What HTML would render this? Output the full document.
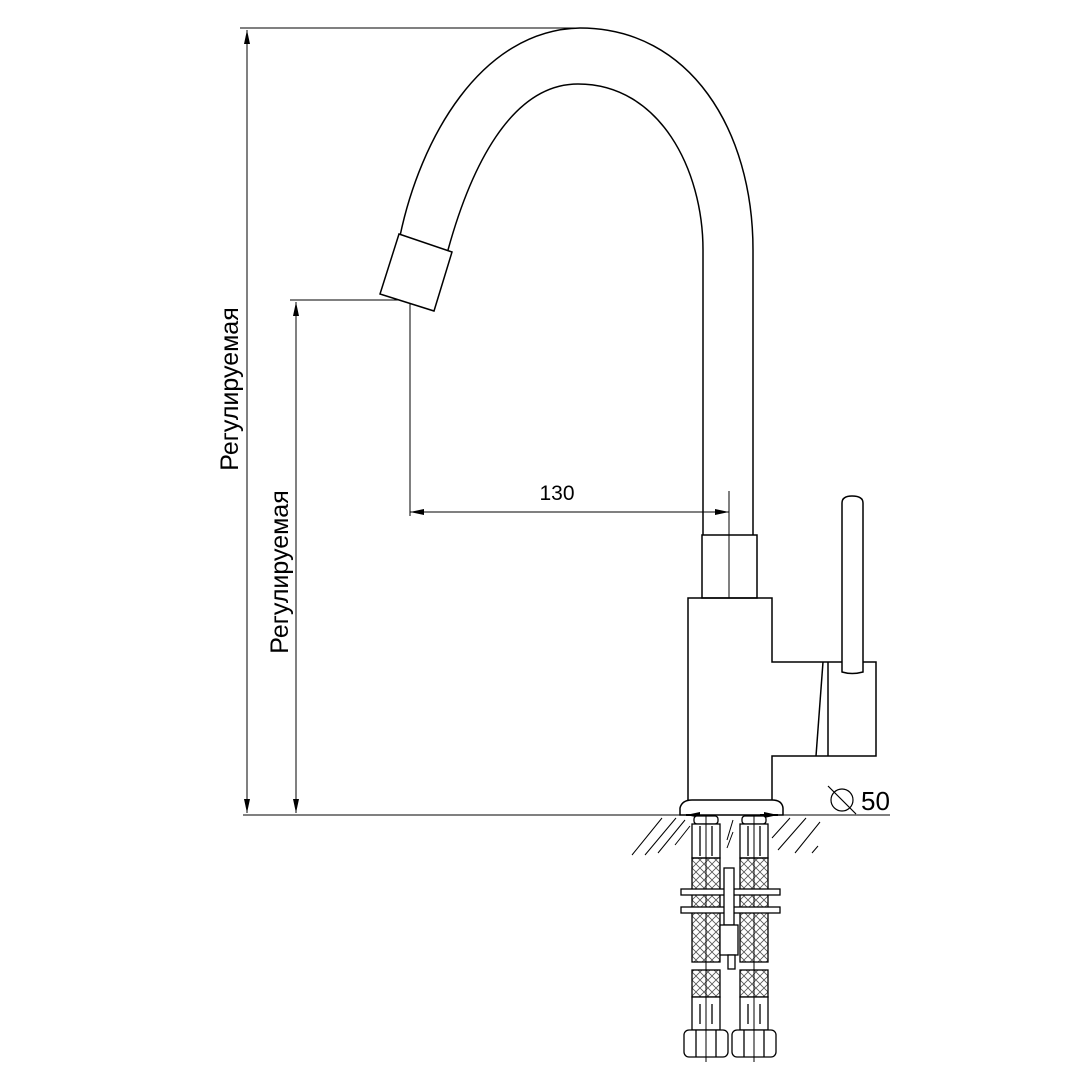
<!DOCTYPE html>
<html><head><meta charset="utf-8"><style>html,body{margin:0;padding:0;background:#fff}svg{display:block}</style></head>
<body>
<svg width="1080" height="1080" viewBox="0 0 1080 1080" xmlns="http://www.w3.org/2000/svg" font-family="Liberation Sans, sans-serif">
<defs>
<pattern id="braid" width="8" height="8" patternUnits="userSpaceOnUse">
<path d="M0,0 L8,8 M8,0 L0,8" stroke="#555" stroke-width="0.8"/>
</pattern>
<marker id="ar" markerWidth="14" markerHeight="6" refX="14" refY="3" orient="auto-start-reverse" markerUnits="userSpaceOnUse"><path d="M0,0 L14,3 L0,6 Z" fill="#000"/></marker>
</defs>
<g fill="none" stroke="#000" stroke-width="1.5">
<line x1="240" y1="28" x2="582" y2="28" stroke-width="1"/>
<line x1="247" y1="30" x2="247" y2="813" stroke-width="1" marker-start="url(#ar)" marker-end="url(#ar)"/>
<line x1="290" y1="300" x2="410" y2="300" stroke-width="1"/>
<line x1="296" y1="302" x2="296" y2="813" stroke-width="1" marker-start="url(#ar)" marker-end="url(#ar)"/>
<line x1="243" y1="815" x2="890" y2="815" stroke-width="1"/>
<line x1="410" y1="303" x2="410" y2="516" stroke-width="1"/>
<line x1="410" y1="512" x2="729" y2="512" stroke-width="1" marker-start="url(#ar)" marker-end="url(#ar)"/>
<line x1="729" y1="491" x2="729" y2="598" stroke-width="1"/>
<path d="M400,236 C420,140 480,30 580,28 C690,28 753,130 753,250 L753,535"/>
<path d="M448,250 C470,170 510,84 578,84 C660,84 703,170 703,250 L703,535"/>
<polygon points="399,234 452,252 434,311 380,294" fill="#fff"/>
<rect x="702" y="535" width="55" height="63"/>
<path d="M688,815 L688,598 L772,598 L772,662 L876,662 L876,756 L772,756 L772,815"/>
<line x1="828" y1="662" x2="828" y2="756"/>
<line x1="823" y1="662" x2="816" y2="756"/>
<path d="M842,672 L842,503 Q842,496 852,496 Q863,496 863,503 L863,672 Q852,675 842,672 Z" fill="#fff"/>
<path d="M680,815 L680,808 Q682,800 692,800 L772,800 Q782,800 783,808 L783,815 Z" fill="#fff"/>
<line x1="686" y1="815" x2="700" y2="815" stroke-width="2" marker-start="url(#ar)"/>
<line x1="760" y1="815" x2="778" y2="815" stroke-width="2" marker-end="url(#ar)"/>
<circle cx="842" cy="800" r="11" stroke-width="1.2"/>
<line x1="828" y1="786" x2="856" y2="814" stroke-width="1.2"/>
</g>
<text x="861" y="810" font-size="26">50</text>
<text x="557" y="500" font-size="21" text-anchor="middle">130</text>
<text transform="translate(238,389) rotate(-90)" font-size="25" text-anchor="middle">Регулируемая</text>
<text transform="translate(288,572) rotate(-90)" font-size="25" text-anchor="middle">Регулируемая</text>
<g stroke="#000" stroke-width="1">
<line x1="632" y1="855" x2="662" y2="818"/><line x1="645" y1="855" x2="676" y2="818"/><line x1="658" y1="853" x2="685" y2="820"/><line x1="675" y1="845" x2="690" y2="826"/>
<line x1="778" y1="850" x2="806" y2="818"/><line x1="795" y1="853" x2="820" y2="822"/><line x1="812" y1="853" x2="818" y2="846"/><line x1="772" y1="838" x2="790" y2="818"/>
<line x1="727" y1="848" x2="733" y2="832"/><line x1="727" y1="840" x2="733" y2="820"/>
</g>
<g fill="none" stroke="#000" stroke-width="1.3">
<g id="h1">
<rect x="694" y="816" width="24" height="8" rx="3" fill="#fff"/>
<rect x="692" y="824" width="28" height="34" fill="#fff"/>
<line x1="700" y1="826" x2="700" y2="856"/><line x1="712" y1="826" x2="712" y2="856"/>
<rect x="692" y="858" width="28" height="104" fill="url(#braid)"/>
<rect x="692" y="970" width="28" height="27" fill="url(#braid)"/>
<rect x="692" y="997" width="28" height="33" fill="#fff"/>
<line x1="700" y1="1004" x2="700" y2="1024"/><line x1="712" y1="1004" x2="712" y2="1024"/>
<rect x="684" y="1030" width="44" height="27" rx="5" fill="#fff"/>
<line x1="696" y1="1030" x2="696" y2="1057"/><line x1="716" y1="1030" x2="716" y2="1057"/>
<line x1="706" y1="816" x2="706" y2="1062" stroke-width="1"/>
</g>
<use href="#h1" transform="translate(48,0)"/>
<rect x="681" y="889" width="99" height="6" fill="#fff"/>
<rect x="681" y="907" width="99" height="6" fill="#fff"/>
<rect x="724" y="868" width="10" height="57" fill="#fff"/>
<rect x="720" y="925" width="18" height="30" fill="#fff"/>
<rect x="728" y="955" width="7" height="14" fill="#fff"/>
</g>
</svg>
</body></html>
